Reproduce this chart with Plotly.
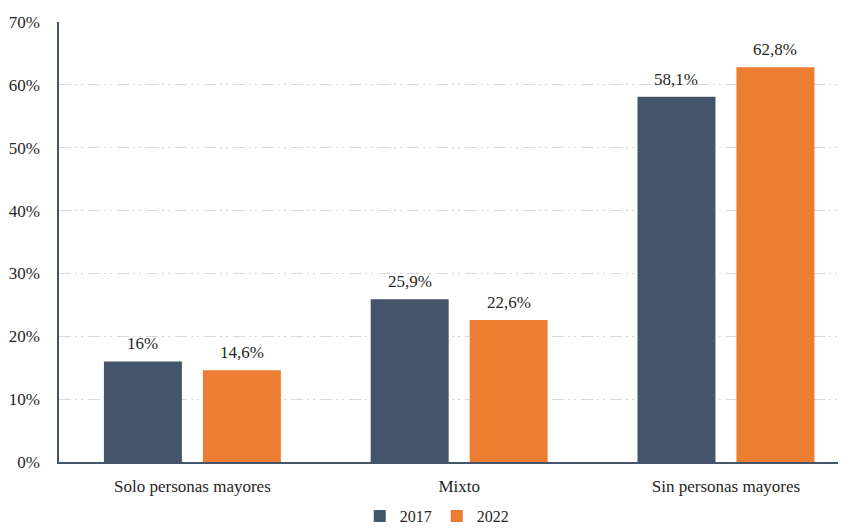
import plotly.graph_objects as go

categories = ["Solo personas mayores", "Mixto", "Sin personas mayores"]
series_names = ["2017", "2022"]
values_2017 = [16.0, 25.9, 58.1]
values_2022 = [14.6, 22.6, 62.8]
labels_2017 = ["16%", "25,9%", "58,1%"]
labels_2022 = ["14,6%", "22,6%", "62,8%"]
y_ticks = [0, 10, 20, 30, 40, 50, 60, 70]
y_tick_labels = ["0%", "10%", "20%", "30%", "40%", "50%", "60%", "70%"]

colors = ["#44546A", "#ED7D31"]
FONT = "'Liberation Serif', 'Times New Roman', Times, serif"
FS = 17

fig = go.Figure()
fig.add_trace(go.Bar(x=categories, y=values_2017, name=series_names[0],
                     marker=dict(color=colors[0], line=dict(width=0))))
fig.add_trace(go.Bar(x=categories, y=values_2022, name=series_names[1],
                     marker=dict(color=colors[1], line=dict(width=0))))

offset_px = 49.5
annotations = []
for lab_list, vals, sh in [(labels_2017, values_2017, -offset_px), (labels_2022, values_2022, offset_px)]:
    for c, v, t in zip(categories, vals, lab_list):
        annotations.append(dict(x=c, y=v, text=t, showarrow=False, xref="x", yref="y",
                                xshift=sh, yshift=6, yanchor="bottom",
                                font=dict(family=FONT, size=FS, color="#262626")))

fig.update_layout(
    width=838, height=522,
    margin=dict(l=51, r=0, t=14, b=68, autoexpand=False),
    paper_bgcolor="white", plot_bgcolor="white",
    barmode="group", bargap=0.258, bargroupgap=0.212,
    font=dict(family=FONT, size=FS, color="#262626"),
    showlegend=True,
    legend=dict(orientation="h", x=0.48, xanchor="center", y=-0.123, yanchor="middle",
                font=dict(family=FONT, size=16, color="#262626"),
                itemwidth=30, tracegroupgap=0),
    annotations=annotations,
    xaxis=dict(range=[-0.5, 2.45], showline=True, linecolor="#44546A", linewidth=1.5,
               ticks="", showgrid=False, tickfont=dict(family=FONT, size=FS, color="#262626"),
               ticklabelstandoff=8, automargin=False),
    yaxis=dict(range=[0, 70], tickvals=y_ticks, ticktext=y_tick_labels,
               showline=True, linecolor="#44546A", linewidth=1.5,
               showgrid=True, gridcolor="#D9D9D9", gridwidth=1,
               griddash="12px,4px,2px,4px,2px,5px", zeroline=False, ticks="",
               tickfont=dict(family=FONT, size=FS, color="#262626"),
               ticklabelstandoff=14, automargin=False),
)

fig.write_html("out.html")
